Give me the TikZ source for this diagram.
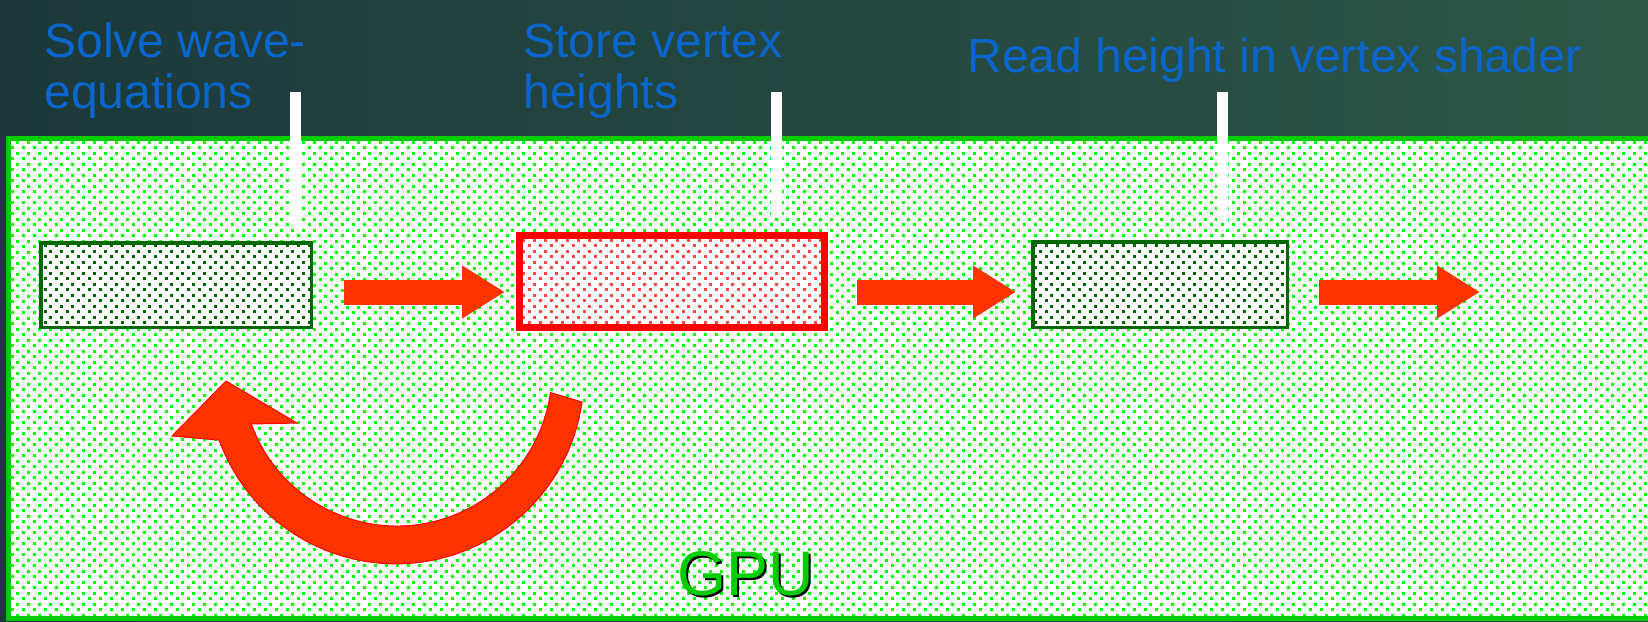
\documentclass[tikz,border=0pt]{standalone}
\usepackage{fontspec}
\setmainfont{Liberation Sans}
\usetikzlibrary{arrows.meta,calc,patterns.meta}
\definecolor{bgL}{HTML}{1C383A}
\definecolor{bgM}{HTML}{183331}
\definecolor{bgR}{HTML}{2C5646}
\definecolor{lblue}{HTML}{0A66CC}
\definecolor{pgreen}{HTML}{00CC00}
\definecolor{dotg}{HTML}{00FF00}
\definecolor{dkgreen}{HTML}{006600}
\definecolor{arrred}{HTML}{FF3300}
\definecolor{dotr}{HTML}{FF4444}
\tikzdeclarepattern{
  name=pdots, type=uncolored,
  bounding box={(0pt,0pt) and (5.5pt,5.5pt)},
  tile size={(5.5pt,5.5pt)},
  code={
    \fill (0pt,0pt) rectangle (1.5pt,1.5pt);
    \fill (2.75pt,2.75pt) rectangle (4.25pt,4.25pt);
  }
}
\tikzset{
  lbl/.style={text=lblue, font=\fontsize{24pt}{25.5pt}\selectfont, inner sep=0pt, align=left},
  gbox/.style={draw=dkgreen, line width=1.75pt, inner sep=0pt,
    preaction={fill=white}, pattern=pdots, pattern color=dkgreen},
  rbox/.style={draw=red, line width=3.5pt, inner sep=0pt,
    preaction={fill=white}, pattern=pdots, pattern color=dotr},
  bigarrow/.style={draw=arrred, line width=12.5pt,
    -{Triangle[length=21.5pt,width=25pt]}},
  wline/.style={draw=white, line width=5.5pt},
  gputext/.style={font=\fontsize{31.5pt}{34pt}\selectfont, inner sep=0pt}
}
\begin{document}
\begin{tikzpicture}[x=0.5pt,y=-0.5pt]
\useasboundingbox (0,0) rectangle (1648,621);
% background
\shade[left color=bgL, middle color=bgM, right color=bgR] (0,0) rectangle (1648,621);
% GPU panel
\draw[draw=pgreen, line width=2.5pt, preaction={fill=white}, pattern=pdots, pattern color=dotg]
  (8,138) rectangle (1660,618);
% labels
\node[lbl, anchor=base west] (l1) at (44,108) {Solve wave-\\equations};
\node[lbl, anchor=base west] (l2) at (523,108) {Store vertex\\heights};
\node[lbl, anchor=base west] (l3) at (967,72) {Read height in vertex shader};
% boxes
\node[gbox, minimum width=135.25pt, minimum height=42.25pt] (b1) at (176,285) {};
\node[rbox, minimum width=152.5pt, minimum height=46pt] (b2) at (672,281.5) {};
\node[gbox, minimum width=127.25pt, minimum height=42.75pt] (b3) at (1160,284.5) {};
% label pointers
\coordinate (t1) at (295,92);
\coordinate (t2) at (776,92);
\coordinate (t3) at (1222,92);
\draw[wline, shorten >=7.5pt] (t1) -- (t1 |- b1.north);
\draw[wline, shorten >=8.5pt] (t2) -- (t2 |- b2.north);
\draw[wline, shorten >=9.5pt] (t3) -- (t3 |- b3.north);
% straight arrows
\coordinate (out) at (1480,292);
\draw[bigarrow] ($(b1.east)+(31,7)$) -- ($(b2.west)+(-11,10.5)$);
\draw[bigarrow] ($(b2.east)+(29,10.5)$) -- ($(b3.west)+(-15,7.5)$);
\draw[bigarrow] ($(b3.east)+(30,7.5)$) -- (out);
% curved arrow
\filldraw[fill=arrred, draw=red, line width=0.5pt]
  (582,402) arc[start angle=8, end angle=160, radius=188]
  -- (172,436) -- (226,381) -- (297,423) -- (251.3,424)
  arc[start angle=160, end angle=8, radius=155] -- cycle;
% GPU label
\node[gputext, text=black, anchor=base] (gpushadow) at (748,597) {GPU};
\node[gputext, text=pgreen, anchor=base] (gpu) at (746,595) {GPU};
\end{tikzpicture}
\end{document}
